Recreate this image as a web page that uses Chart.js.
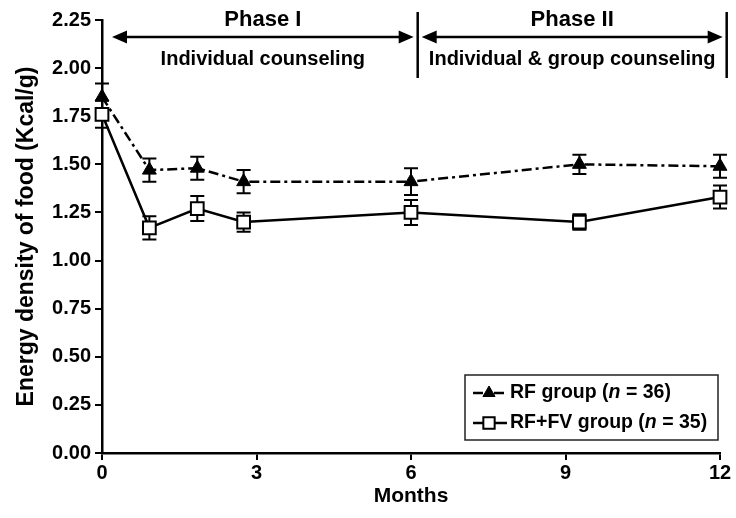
<!DOCTYPE html>
<html>
<head>
<meta charset="utf-8">
<script src="https://cdn.jsdelivr.net/npm/chart.js@4/dist/chart.umd.min.js"></script>
<style>
  html, body { margin: 0; padding: 0; background: #fff; }
  #wrap { width: 736px; height: 518px; }
</style>
</head>
<body>
<div id="wrap"><canvas id="c" width="736" height="518"></canvas></div>
<script>
// ---- data ----
const months      = [0, 0.92, 1.85, 2.75, 6, 9.27, 12];
const rfMeans     = [1.85, 1.47, 1.48, 1.41, 1.41, 1.50, 1.49];
const rfErrors    = [0.07, 0.06, 0.06, 0.06, 0.07, 0.05, 0.06];
const rffvMeans   = [1.76, 1.17, 1.27, 1.20, 1.25, 1.20, 1.33];
const rffvErrors  = [0.07, 0.06, 0.065, 0.05, 0.065, 0.04, 0.06];
const xTicks      = [0, 3, 6, 9, 12];
const yTicks      = [0, 0.25, 0.5, 0.75, 1.0, 1.25, 1.5, 1.75, 2.0, 2.25];
const seriesNames = ['RF group', 'RF+FV group'];
const seriesN     = [36, 35];
const phaseNames  = ['Phase I', 'Phase II'];
const phaseSubs   = ['Individual counseling', 'Individual & group counseling'];
const phaseBounds = [0, 6.13, 12.13];   // month positions of phase separators

const FONT = '"Liberation Sans", Arial, Helvetica, sans-serif';

const errorBarPlugin = {
  id: 'errorBars',
  beforeDatasetsDraw(chart) {
    const ctx = chart.ctx, xs = chart.scales.x, ys = chart.scales.y;
    const sets = [[rfMeans, rfErrors], [rffvMeans, rffvErrors]];
    ctx.save();
    ctx.strokeStyle = '#000';
    ctx.lineWidth = 2;
    sets.forEach(([m, e]) => {
      months.forEach((mx, i) => {
        const px = xs.getPixelForValue(mx);
        const top = ys.getPixelForValue(m[i] + e[i]);
        const bot = ys.getPixelForValue(m[i] - e[i]);
        ctx.beginPath();
        ctx.moveTo(px, top); ctx.lineTo(px, bot);
        ctx.moveTo(px - 7, top); ctx.lineTo(px + 7, top);
        ctx.moveTo(px - 7, bot); ctx.lineTo(px + 7, bot);
        ctx.stroke();
      });
    });
    ctx.restore();
  }
};

function arrowHead(ctx, x, y, dir) {
  ctx.beginPath();
  ctx.moveTo(x, y);
  ctx.lineTo(x - dir * 15, y - 6.5);
  ctx.lineTo(x - dir * 15, y + 6.5);
  ctx.closePath();
  ctx.fill();
}

const phasePlugin = {
  id: 'phases',
  afterDraw(chart) {
    const ctx = chart.ctx, xs = chart.scales.x;
    const ay = 37;
    ctx.save();
    ctx.strokeStyle = '#000';
    ctx.fillStyle = '#000';
    ctx.lineWidth = 2.5;
    for (let k = 1; k < phaseBounds.length; k++) {
      const px = xs.getPixelForValue(phaseBounds[k]);
      ctx.beginPath(); ctx.moveTo(px, 12); ctx.lineTo(px, 78); ctx.stroke();
    }
    for (let k = 0; k < phaseNames.length; k++) {
      const x0 = xs.getPixelForValue(phaseBounds[k]) + (k === 0 ? 10 : 4);
      const x1 = xs.getPixelForValue(phaseBounds[k + 1]) - 4;
      ctx.beginPath(); ctx.moveTo(x0 + 8, ay); ctx.lineTo(x1 - 8, ay); ctx.stroke();
      arrowHead(ctx, x0, ay, -1);
      arrowHead(ctx, x1, ay, 1);
      const cx = (x0 + x1) / 2;
      ctx.textAlign = 'center';
      ctx.textBaseline = 'middle';
      ctx.font = 'bold 22px ' + FONT;
      ctx.fillText(phaseNames[k], cx, 20);
      ctx.font = 'bold 20px ' + FONT;
      ctx.fillText(phaseSubs[k], cx, 59);
    }
    ctx.restore();
  }
};

const legendPlugin = {
  id: 'customLegend',
  afterDraw(chart) {
    const ctx = chart.ctx;
    const bx = 465, by = 375, bw = 253, bh = 65;
    ctx.save();
    ctx.fillStyle = '#fff';
    ctx.fillRect(bx, by, bw, bh);
    ctx.strokeStyle = '#222';
    ctx.lineWidth = 1.5;
    ctx.strokeRect(bx, by, bw, bh);
    const rows = [by + 18, by + 48];
    chart.data.datasets.forEach((ds, i) => {
      const y = rows[i];
      ctx.strokeStyle = '#000';
      ctx.lineWidth = 2.5;
      ctx.setLineDash(ds.borderDash || []);
      ctx.beginPath(); ctx.moveTo(473, y); ctx.lineTo(507, y); ctx.stroke();
      ctx.setLineDash([]);
      ctx.lineWidth = ds.pointBorderWidth || 1;
      ctx.fillStyle = ds.pointBackgroundColor;
      ctx.strokeStyle = ds.pointBorderColor;
      Chart.helpers.drawPoint(ctx, {pointStyle: ds.pointStyle, radius: ds.pointRadius - 1, borderWidth: ds.pointBorderWidth}, 489, y);
      ctx.fillStyle = '#000';
      ctx.textBaseline = 'middle';
      ctx.textAlign = 'left';
      let tx = 510;
      const parts = [
        ['bold 19.5px ' + FONT, seriesNames[i] + ' ('],
        ['italic bold 19.5px ' + FONT, 'n'],
        ['bold 19.5px ' + FONT, ' = ' + seriesN[i] + ')']
      ];
      parts.forEach(([f, t]) => {
        ctx.font = f;
        ctx.fillText(t, tx, y);
        tx += ctx.measureText(t).width;
      });
    });
    ctx.restore();
  }
};

const ctx = document.getElementById('c').getContext('2d');
new Chart(ctx, {
  type: 'line',
  data: {
    datasets: [
      {
        label: seriesNames[0],
        data: months.map((m, i) => ({x: m, y: rfMeans[i]})),
        borderColor: '#000',
        borderWidth: 2.5,
        borderDash: [10, 4, 3, 4],
        pointStyle: 'triangle',
        pointRadius: 8,
        pointBackgroundColor: '#000',
        pointBorderColor: '#000',
        pointBorderWidth: 1,
        fill: false,
        clip: false,
        tension: 0
      },
      {
        label: seriesNames[1],
        data: months.map((m, i) => ({x: m, y: rffvMeans[i]})),
        borderColor: '#000',
        borderWidth: 2.5,
        pointStyle: 'rect',
        pointRadius: 9,
        pointBackgroundColor: '#fff',
        pointBorderColor: '#000',
        pointBorderWidth: 2,
        fill: false,
        clip: false,
        tension: 0
      }
    ]
  },
  options: {
    responsive: false,
    animation: false,
    events: [],
    layout: { padding: { top: 20, right: 16, bottom: 0, left: 0 } },
    plugins: { legend: { display: false }, tooltip: { enabled: false } },
    scales: {
      x: {
        type: 'linear',
        min: 0, max: 12,
        afterBuildTicks(s) { s.ticks = xTicks.map(v => ({value: v})); },
        afterFit(s) { s.height = 65; },
        ticks: { color: '#000', font: { family: FONT, size: 20, weight: 'bold' }, padding: 1 },
        grid: { drawOnChartArea: false, drawTicks: true, tickLength: 7, color: '#000', lineWidth: 2 },
        border: { color: '#000', width: 2.5 },
        title: { display: true, text: 'Months', color: '#000', font: { family: FONT, size: 21, weight: 'bold' }, padding: { top: 0, bottom: 9 } }
      },
      y: {
        min: 0, max: 2.25,
        afterBuildTicks(s) { s.ticks = yTicks.map(v => ({value: v})); },
        afterFit(s) { s.width = 102; },
        ticks: { color: '#000', font: { family: FONT, size: 20, weight: 'bold' }, padding: 4, callback: v => Number(v).toFixed(2) },
        grid: { drawOnChartArea: false, drawTicks: true, tickLength: 7, color: '#000', lineWidth: 2 },
        border: { color: '#000', width: 2.5 },
        title: { display: true, text: 'Energy density of food (Kcal/g)', color: '#000', font: { family: FONT, size: 23, weight: 'bold' }, padding: { top: 13, bottom: 0 } }
      }
    }
  },
  plugins: [errorBarPlugin, phasePlugin, legendPlugin]
});
</script>
</body>
</html>
